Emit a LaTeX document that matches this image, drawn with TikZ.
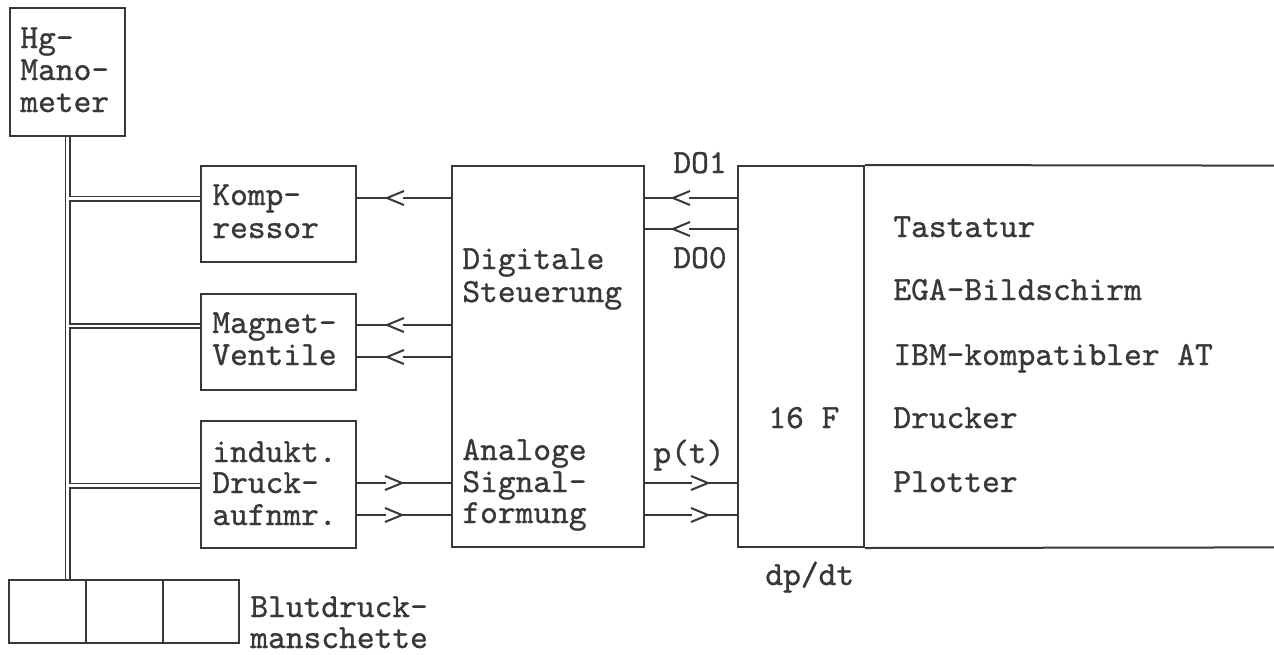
\documentclass[tikz,border=0pt]{standalone}
\usepackage{fontspec}
\newfontfamily\cour{lmmono10-regular}[Extension=.otf, FakeBold=0.9]
\usetikzlibrary{fit}
\definecolor{ink}{gray}{0.22}
\begin{document}
\begin{tikzpicture}[x=0.5pt,y=-0.5pt,
  box/.style={draw=ink, line width=1pt, inner sep=0pt, fit={#1}},
  area/.style={inner sep=0pt, fit={#1}},
  txt/.style={anchor=base west, inner sep=0pt, text=ink, font=\cour\fontsize{16.9pt}{18pt}\selectfont},
  wire/.style={draw=ink, line width=1pt},
  pipe/.style={draw=ink, line width=0.9pt, double=white, double distance=1.2pt},
  chevl/.pic={\fill[white] (0.8,-2.5) rectangle (16,2.5);
              \draw[wire, line join=miter] (17,-7) -- (0,0) -- (17,7);},
  chevr/.pic={\fill[white] (-0.8,-2.5) rectangle (-16,2.5);
              \draw[wire, line join=miter] (-17,-7) -- (0,0) -- (-17,7);}
]
\useasboundingbox (0,0) rectangle (1274,654);

% boxes
\node[box={(10,8) (125,136)}] (hg) {};
\node[box={(201,166) (356,262)}] (komp) {};
\node[box={(201,294) (356,390)}] (magn) {};
\node[box={(201,421) (356,548)}] (ind) {};
\node[box={(452,166) (644,547)}] (dig) {};
\node[box={(738,166) (864,547)}] (pcf) {};
\node[area={(864,166) (1274,547)}] (pc) {};
\draw[wire] (pcf.north east) -- (pc.north east);
\draw[wire] (pcf.south east) -- (pc.south east);
\node[box={(9,580) (86,643)}] (cuffa) {};
\node[box={(86,580) (163,643)}] (cuffb) {};
\node[box={(163,580) (239,643)}] (cuffc) {};

% pneumatic double lines
\draw[pipe] (hg.south) -- (hg.south |- cuffa.north);
\coordinate (jx) at (68.7,0);
\coordinate (pk) at (201,198.5);
\coordinate (pm) at (201,326);
\coordinate (pi) at (201,485.5);
\draw[pipe] (jx |- pk) -- (komp.west |- pk);
\draw[pipe] (jx |- pm) -- (magn.west |- pm);
\draw[pipe] (jx |- pi) -- (ind.west |- pi);

% signal lines
\coordinate (y1) at (0,198);
\coordinate (y2) at (0,325);
\coordinate (y3) at (0,357);
\coordinate (y4) at (0,483);
\coordinate (y5) at (0,515);
\coordinate (y6) at (0,229);
\draw[wire] (dig.west |- y1) -- (komp.east |- y1);
\draw[wire] (dig.west |- y2) -- (magn.east |- y2);
\draw[wire] (dig.west |- y3) -- (magn.east |- y3);
\draw[wire] (ind.east |- y4) -- (dig.west |- y4);
\draw[wire] (ind.east |- y5) -- (dig.west |- y5);
\draw[wire] (pcf.west |- y1) -- (dig.east |- y1);
\draw[wire] (pcf.west |- y6) -- (dig.east |- y6);
\draw[wire] (dig.east |- y4) -- (pcf.west |- y4);
\draw[wire] (dig.east |- y5) -- (pcf.west |- y5);
\pic at (387,198) {chevl};
\pic at (387,325) {chevl};
\pic at (387,357) {chevl};
\pic at (402,483) {chevr};
\pic at (402,515) {chevr};
\pic at (673,198) {chevl};
\pic at (673,229) {chevl};
\pic at (708,483) {chevr};
\pic at (708,515) {chevr};

% texts
\node[txt] (t1) at (20,48) {Hg-};
\node[txt] (t2) at (20,80) {Mano-};
\node[txt] (t3) at (20,112) {meter};
\node[txt] (t4) at (212,205) {Komp-};
\node[txt] (t5) at (212,238) {ressor};
\node[txt] (t6) at (212,333) {Magnet-};
\node[txt] (t7) at (212,365) {Ventile};
\node[txt] (t8) at (212,462) {indukt.};
\node[txt] (t9) at (212,493) {Druck-};
\node[txt] (t10) at (212,525) {aufnmr.};
\node[txt] (t11) at (250,617) {Blutdruck-};
\node[txt] (t12) at (250,648) {manschette};
\node[txt] (t13) at (462,269) {Digitale};
\node[txt] (t14) at (462,302) {Steuerung};
\node[txt] (t15) at (462,460) {Analoge};
\node[txt] (t16) at (462,492) {Signal-};
\node[txt] (t17) at (462,523) {formung};
\node[txt] (t18) at (673,173) {DO1};
\node[txt] (t19) at (673,268) {DO0};
\node[txt] (t20) at (653,463) {p(t)};
\node[txt] (t21) at (768,428) {16 F};
\node[txt] (t22) at (893,237) {Tastatur};
\node[txt] (t23) at (893,300) {EGA-Bildschirm};
\node[txt] (t24) at (893,365) {IBM-kompatibler AT};
\node[txt] (t25) at (893,428) {Drucker};
\node[txt] (t26) at (893,492) {Plotter};
\node[txt] (t27) at (765,585) {dp/dt};
\end{tikzpicture}
\end{document}
